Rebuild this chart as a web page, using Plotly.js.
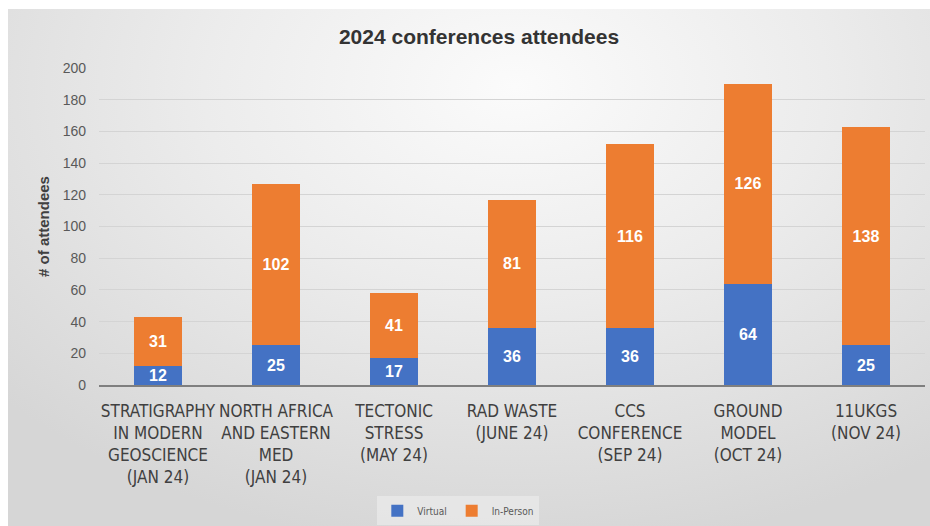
<!DOCTYPE html>
<html>
<head>
<meta charset="utf-8">
<script src="https://cdn.plot.ly/plotly-3.0.1.min.js"></script>
<style>
  html, body { margin: 0; padding: 0; background: #ffffff; }
  #bg { position: absolute; left: 8px; top: 9px; width: 922px; height: 517px;
        background: radial-gradient(ellipse 75% 90% at 55% 15%, #fbfbfb 0%, #ececec 45%, #d6d6d6 100%); }
  #chart { position: absolute; left: 0; top: 0; width: 930px; height: 526px; }
</style>
</head>
<body>
<div id="bg"></div>
<div id="chart"></div>
<script>
const categories = [
  "STRATIGRAPHY<br>IN MODERN<br>GEOSCIENCE<br>(JAN 24)",
  "NORTH AFRICA<br>AND EASTERN<br>MED<br>(JAN 24)",
  "TECTONIC<br>STRESS<br>(MAY 24)",
  "RAD WASTE<br>(JUNE 24)",
  "CCS<br>CONFERENCE<br>(SEP 24)",
  "GROUND<br>MODEL<br>(OCT 24)",
  "11UKGS<br>(NOV 24)"
];
const virtualVals = [12, 25, 17, 36, 36, 64, 25];
const inPersonVals = [31, 102, 41, 81, 116, 126, 138];
const yTicks = [0, 20, 40, 60, 80, 100, 120, 140, 160, 180, 200];

const condensed = "DejaVu Sans Condensed, Liberation Sans Narrow, Arial Narrow, sans-serif";
const labelFont = { family: "Liberation Sans, Arial, sans-serif", size: 16, color: "#ffffff" };

const traces = [
  {
    type: "bar", name: "Virtual", x: categories, y: virtualVals,
    marker: { color: "#4472C4" },
    texttemplate: "<b>%{y}</b>", textposition: "inside", insidetextanchor: "middle",
    textfont: labelFont, constraintext: "none", hoverinfo: "skip"
  },
  {
    type: "bar", name: "In-Person", x: categories, y: inPersonVals,
    marker: { color: "#ED7D31" },
    texttemplate: "<b>%{y}</b>", textposition: "inside", insidetextanchor: "middle",
    textfont: labelFont, constraintext: "none", hoverinfo: "skip"
  }
];

const layout = {
  width: 930, height: 526,
  paper_bgcolor: "rgba(0,0,0,0)", plot_bgcolor: "rgba(0,0,0,0)",
  barmode: "stack", bargap: 0.6,
  margin: { l: 99, r: 5, t: 68, b: 141, autoexpand: false },
  title: {
    text: "2024 conferences attendees",
    font: { family: "Liberation Sans, Arial, sans-serif", size: 21, color: "#333333", weight: 600 },
    x: 479 / 930, xanchor: "center", xref: "container", y: 1 - 37 / 526, yref: "container", yanchor: "middle"
  },
  xaxis: {
    tickangle: 0,
    tickfont: { family: condensed, size: 17, color: "#404040" },
    showline: true, linecolor: "#7f7f7f", linewidth: 1.5,
    showgrid: false, ticks: "", ticklen: 0, ticklabelstandoff: 10, fixedrange: true
  },
  yaxis: {
    range: [0, 200], tickvals: yTicks, ticktext: yTicks.map(String),
    tickfont: { family: "Liberation Sans, Arial, sans-serif", size: 14, color: "#595959" },
    showgrid: true, gridcolor: "#d4d4d4", gridwidth: 1,
    zeroline: false, ticks: "", ticklabelstandoff: 12,
    title: { text: "<b># of attendees</b>", standoff: 9,
             font: { family: "Liberation Sans, Arial, sans-serif", size: 15, color: "#404040" } },
    fixedrange: true
  },
  legend: {
    orientation: "h", x: 0.435, xanchor: "center", y: -0.397, yanchor: "middle",
    bgcolor: "rgba(235,235,235,0.7)",
    font: { family: condensed, size: 10, color: "#595959" },
    itemwidth: 30, traceorder: "normal"
  },
  showlegend: true,
  hovermode: false
};

Plotly.newPlot("chart", traces, layout, { displayModeBar: false, staticPlot: true });
</script>
</body>
</html>
